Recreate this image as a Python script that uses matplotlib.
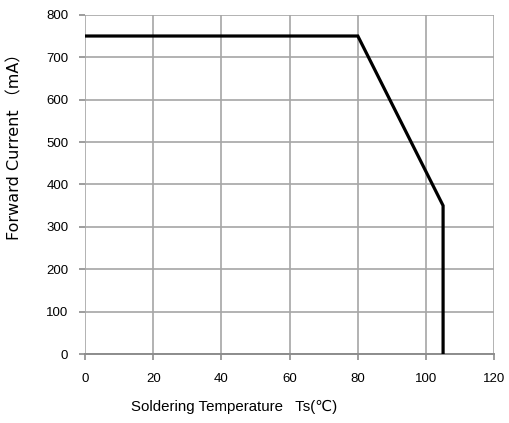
import matplotlib
matplotlib.use('Agg')
import matplotlib.pyplot as plt

# derating curve
temp = [0, 80, 105, 105]
current = [750, 750, 350, 0]

x_ticks = [0, 20, 40, 60, 80, 100, 120]
y_ticks = [0, 100, 200, 300, 400, 500, 600, 700, 800]

plt.rcParams['font.family'] = ['Liberation Sans', 'DejaVu Sans', 'Noto Sans CJK SC']

fig = plt.figure(figsize=(5.09, 4.23), dpi=100)
ax = fig.add_axes([0.167, 0.163, 0.804, 0.802])

ax.plot(temp, current, color='black', lw=2.3, zorder=3, solid_joinstyle='miter')

ax.set_xlim(0, 120)
ax.set_ylim(0, 800)
ax.set_xticks(x_ticks)
ax.set_yticks(y_ticks)
ax.grid(True, color='#a6a6a6', lw=1.2)
for s in ['top', 'right', 'left']:
    ax.spines[s].set_visible(False)
ax.spines['bottom'].set_color('#8c8c8c')
ax.spines['bottom'].set_linewidth(1.4)
ax.tick_params(axis='both', colors='#8c8c8c', length=4, width=1.2, labelsize=9.5,
               labelcolor='black')
ax.tick_params(axis='y', pad=8)
ax.tick_params(axis='x', pad=10)

fig.text(131 / 509, 1 - 407 / 423, 'Soldering Temperature   Ts(℃)', fontsize=10.8,
         ha='left', va='center')
fig.text(15 / 509, 1 - 143 / 423, 'Forward Current （mA）', fontsize=11.5,
         rotation=90, ha='center', va='center',
         family=['DejaVu Sans', 'Noto Sans CJK SC'])

fig.savefig('out.png', dpi=100)
